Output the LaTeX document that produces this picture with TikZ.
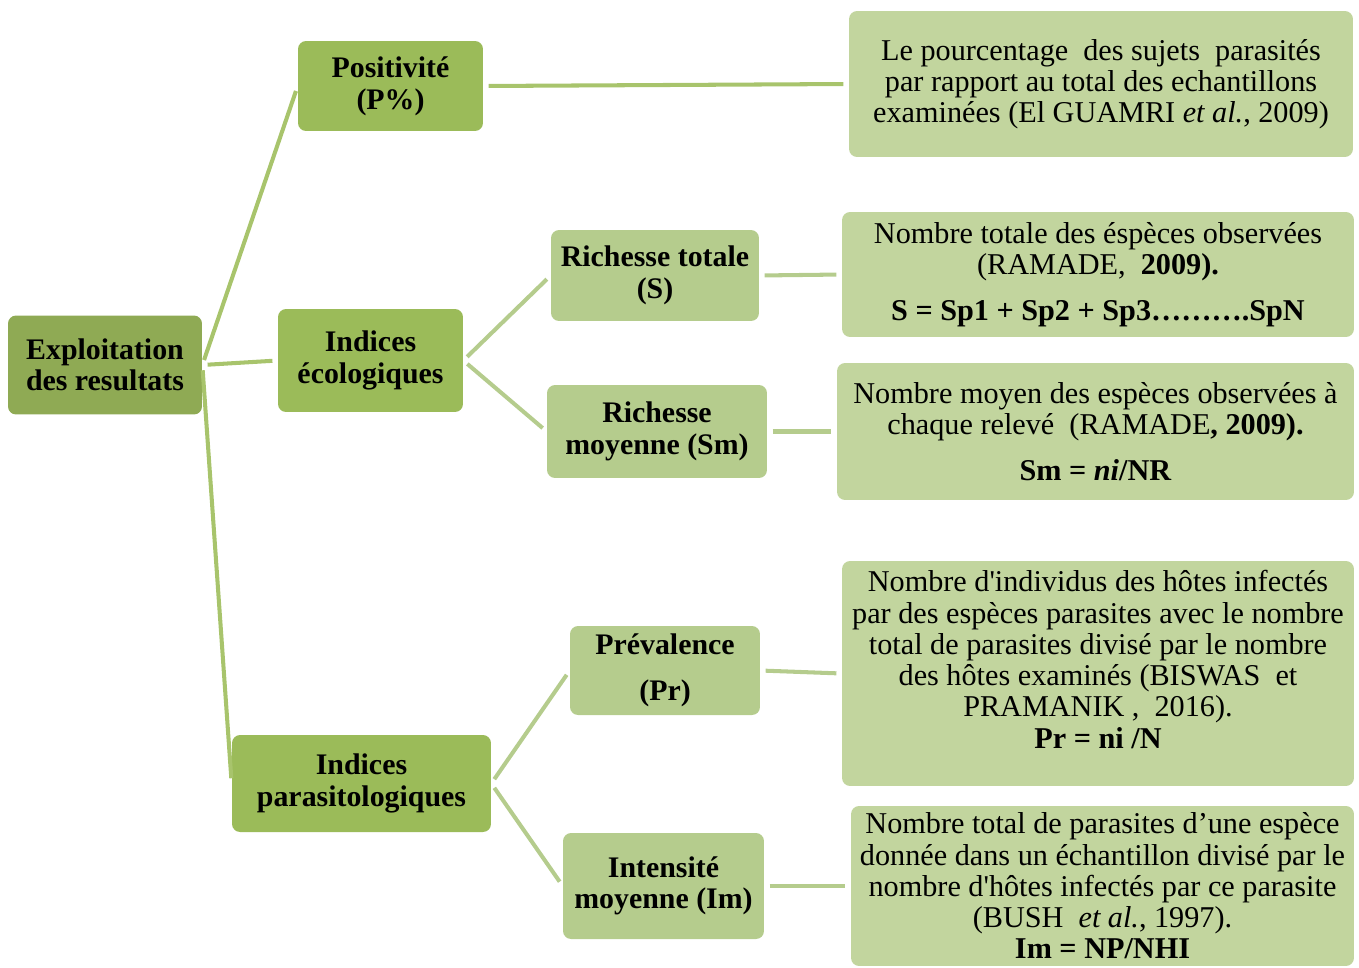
\documentclass[tikz,border=0pt]{standalone}
\usepackage{fontspec}
\setmainfont{Liberation Serif}[Ligatures=TeXOff]
\definecolor{rootgreen}{HTML}{8FAA54}
\definecolor{midgreen}{HTML}{9BBB59}
\definecolor{lightgreen}{HTML}{B5CC8D}
\definecolor{leafgreen}{HTML}{C2D59E}
\definecolor{linkgreen}{HTML}{A8C46C}
\newcommand{\labelfont}{\fontsize{17}{18}\selectfont\bfseries}
\newcommand{\leaffont}{\fontsize{17.2}{17.8}\selectfont}

\begin{document}
\begin{tikzpicture}[x=0.02cm, y=-0.02cm,
    box/.style={rounded corners=0.16cm, inner sep=0pt, align=center},
    rootbox/.style={box, fill=rootgreen, font=\labelfont},
    levelbox/.style={box, fill=midgreen, font=\labelfont},
    subbox/.style={box, fill=lightgreen, font=\labelfont},
    leafbox/.style={box, fill=leafgreen, font=\leaffont},
    link/.style={line width=2.3pt, draw=linkgreen, shorten <=3pt, shorten >=3pt},
    sublink/.style={link, draw=lightgreen}]
    \useasboundingbox (0,0) rectangle (1359,967);

    % left part of the tree
    \node[rootbox, minimum width=3.88cm, minimum height=1.98cm] (root) at (105,365)
        {Exploitation\\des resultats};
    \node[levelbox, minimum width=3.7cm, minimum height=1.8cm] (posit) at (390.5,86)
        {Positivité\\(P\%)};
    \node[levelbox, minimum width=3.7cm, minimum height=2.06cm] (ecol) at (370.5,360.5)
        {Indices\\écologiques};
    \node[levelbox, minimum width=5.18cm, minimum height=1.94cm] (parasit) at (361.5,783.5)
        {Indices\\parasitologiques};

    \node[subbox, minimum width=4.16cm, minimum height=1.82cm] (rtot) at (655,275.5)
        {Richesse totale\\(S)};
    \node[subbox, minimum width=4.4cm, minimum height=1.86cm] (rmoy) at (657,431.5)
        {Richesse\\moyenne (Sm)};
    \node[subbox, minimum width=3.8cm, minimum height=1.78cm] (prev) at (665,670.5)
        {Prévalence\\[8pt](Pr)};
    \node[subbox, minimum width=4.02cm, minimum height=2.12cm] (intens) at (663.5,886)
        {Intensité\\moyenne (Im)};

    % definitions
    \node[leafbox, minimum width=10.08cm, minimum height=2.92cm] (defposit) at (1101,84)
        {Le pourcentage~ des sujets~ parasités\\par rapport au total des echantillons\\examinées (El GUAMRI \textit{et al.}, 2009)};
    \node[leafbox, minimum width=10.24cm, minimum height=2.5cm] (defrtot) at (1098,274.5)
        {Nombre totale des éspèces observées\\(RAMADE,~ \textbf{2009).}\\[8pt]
         \textbf{S = Sp1 + Sp2 + Sp3……….SpN}};
    \node[leafbox, minimum width=10.34cm, minimum height=2.74cm] (defrmoy) at (1095.5,431.5)
        {Nombre moyen des espèces observées à\\chaque relevé~ (RAMADE\textbf{, 2009).}\\[8pt]
         \textbf{Sm = \textit{ni}/NR}};
    \node[leafbox, minimum width=10.24cm, minimum height=4.5cm] (defprev) at (1098,673.5)
        {Nombre d'individus des hôtes infectés\\par des espèces parasites avec le nombre\\
         total de parasites divisé par le nombre\\des hôtes examinés (BISWAS~ et\\
         PRAMANIK ,~ 2016).\\\textbf{Pr = ni /N}\\[-7pt]\strut};
    \node[leafbox, minimum width=10.06cm, minimum height=3.2cm] (defintens) at (1102.5,886)
        {Nombre total de parasites d’une espèce\\donnée dans un échantillon divisé par le\\
         nombre d'hôtes infectés par ce parasite\\(BUSH~ \textit{et al.}, 1997).\\
         \textbf{Im = NP/NHI}};

    % connectors
    \draw[link] (root.east) -- (posit.west);
    \draw[link] (root.east) -- (ecol.west);
    \draw[link] (root.east) -- (parasit.west);
    \draw[link] (posit.east) -- (defposit.west);

    \draw[sublink] (ecol.east) -- (rtot.west);
    \draw[sublink] (ecol.east) -- (rmoy.west);
    \draw[sublink] (parasit.east) -- (prev.west);
    \draw[sublink] (parasit.east) -- (intens.west);

    \draw[sublink] (rtot.east) -- (defrtot.west);
    \draw[sublink] (rmoy.east) -- (defrmoy.west);
    \draw[sublink] (prev.east) -- (defprev.west);
    \draw[sublink] (intens.east) -- (defintens.west);
\end{tikzpicture}
\end{document}
